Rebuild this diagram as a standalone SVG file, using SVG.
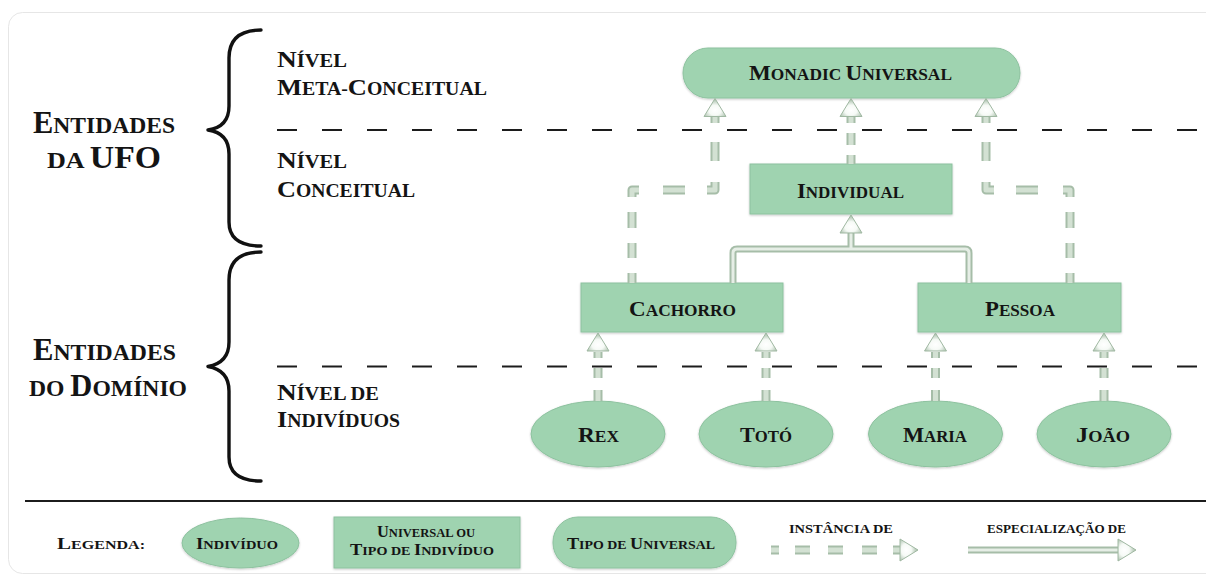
<svg xmlns="http://www.w3.org/2000/svg" width="1206" height="575" viewBox="0 0 1206 575">
  <defs>
    <style>
      .t{font-family:"Liberation Serif","Times New Roman",serif;font-weight:bold;fill:#141414}
      .g1{font-size:31px}.g2{font-size:24px}
      .m1{font-size:24px}.m2{font-size:18px}
      .n1{font-size:22px}.n2{font-size:16.5px}
      .l1{font-size:17px}.l2{font-size:13px}
      .node{fill:#9fd3b0;stroke:#8dc29f;stroke-width:1;filter:url(#sh)}
      .sep{fill:none;stroke:#1c1c1c;stroke-width:2;stroke-dasharray:20 25}
      .brace{fill:none;stroke:#111;stroke-width:3.4;stroke-linecap:round;stroke-linejoin:round}
      .co{fill:none;stroke:#a6bda8;stroke-linejoin:round}
      .ci{fill:none;stroke:#d3e1d3;stroke-linejoin:round}
      .d.co{stroke-width:9}.d.ci{stroke-width:5}
      .s.co{stroke-width:7}.s.ci{stroke-width:3}
      .s.ci{stroke:#e6eee6}
      .head{fill:url(#hg);stroke:#a0b8a2;stroke-width:1;stroke-linejoin:round}
    </style>
    <filter id="sh" x="-10%" y="-20%" width="120%" height="150%">
      <feDropShadow dx="0" dy="1" stdDeviation="1" flood-color="#000" flood-opacity="0.22"/>
    </filter>
    <radialGradient id="hg" cx="0.5" cy="0.65" r="0.62">
      <stop offset="0" stop-color="#ffffff"/>
      <stop offset="0.45" stop-color="#f6faf6"/>
      <stop offset="1" stop-color="#a3bba5"/>
    </radialGradient>
    <!-- arrowhead pointing up, tip at origin -->
    <path id="ah" d="M0,0 L11,18 L-11,18 Z"/>
    <!-- connector geometry (instance-of: dashed, specialization: solid) -->
    <path id="pL" d="M632,283 V190 H715 V116" stroke-dasharray="10 15 15 15 16 15 14 24 22 22 16 21 19 19 7 100"/>
    <path id="pR" d="M1070,283 V190 H986 V116" stroke-dasharray="10 15 15 15 16 15 14 25 22 22 16 21 19 19 7 100"/>
    <path id="pM" d="M851,164 V116" stroke-dasharray="9 10 12 10 7 100"/>
    <path id="pRex" d="M598,401 V352" stroke-dasharray="11 12 10 10 6 100"/>
    <path id="pToto" d="M766,401 V352" stroke-dasharray="11 12 10 10 6 100"/>
    <path id="pMaria" d="M935.5,401 V352" stroke-dasharray="11 12 10 10 6 100"/>
    <path id="pJoao" d="M1104,401 V352" stroke-dasharray="11 12 10 10 6 100"/>
    <path id="pSpec" d="M733,283 V253 Q733,249 737,249 H965 Q969,249 969,253 V283 M851,249 V233"/>
    <path id="pLegI" d="M771,550 H900" stroke-dasharray="8 16 15 18 15 19 15 16 7 100"/>
    <path id="pLegS" d="M968,550 H1118"/>
  </defs>

  <!-- card frame -->
  <rect x="8.5" y="12.5" width="1215" height="561" rx="14" fill="#fff" stroke="#e6e6e6" stroke-width="1"/>

  <!-- level separators -->
  <line class="sep" x1="277" y1="130" x2="1206" y2="130"/>
  <line class="sep" x1="277" y1="366.5" x2="1206" y2="366.5"/>
  <line x1="25" y1="501" x2="1206" y2="501" stroke="#1c1c1c" stroke-width="2.2"/>

  <!-- braces -->
  <path class="brace" d="M261,30 C244,30 229,36 229,58 L229,106 C229,120 222,128 208,130 C222,132 229,140 229,154 L229,222 C229,240 242,246 261,246"/>
  <path class="brace" d="M261,252 C244,252 229,258 229,280 L229,342 C229,356 222,364 208,366.5 C222,369 229,377 229,391 L229,457 C229,475 242,481 261,481"/>

  <!-- group labels -->
  <text class="t" x="33" y="133" textLength="142" lengthAdjust="spacingAndGlyphs"><tspan class="g1">E</tspan><tspan class="g2">NTIDADES</tspan></text>
  <text class="t" x="47" y="168" textLength="114" lengthAdjust="spacingAndGlyphs"><tspan class="g2">DA </tspan><tspan class="g1">UFO</tspan></text>
  <text class="t" x="33" y="360" textLength="143" lengthAdjust="spacingAndGlyphs"><tspan class="g1">E</tspan><tspan class="g2">NTIDADES</tspan></text>
  <text class="t" x="29" y="396" textLength="158" lengthAdjust="spacingAndGlyphs"><tspan class="g2">DO </tspan><tspan class="g1">D</tspan><tspan class="g2">OMÍNIO</tspan></text>

  <!-- level labels -->
  <text class="t" x="277" y="67" textLength="70" lengthAdjust="spacingAndGlyphs"><tspan class="m1">N</tspan><tspan class="m2">ÍVEL</tspan></text>
  <text class="t" x="277" y="94.5" textLength="210" lengthAdjust="spacingAndGlyphs"><tspan class="m1">M</tspan><tspan class="m2">ETA-</tspan><tspan class="m1">C</tspan><tspan class="m2">ONCEITUAL</tspan></text>
  <text class="t" x="277" y="168" textLength="70" lengthAdjust="spacingAndGlyphs"><tspan class="m1">N</tspan><tspan class="m2">ÍVEL</tspan></text>
  <text class="t" x="277" y="196.5" textLength="138" lengthAdjust="spacingAndGlyphs"><tspan class="m1">C</tspan><tspan class="m2">ONCEITUAL</tspan></text>
  <text class="t" x="277" y="400" textLength="102" lengthAdjust="spacingAndGlyphs"><tspan class="m1">N</tspan><tspan class="m2">ÍVEL DE</tspan></text>
  <text class="t" x="277" y="427" textLength="123" lengthAdjust="spacingAndGlyphs"><tspan class="m1">I</tspan><tspan class="m2">NDIVÍDUOS</tspan></text>

  <!-- nodes -->
  <g id="monadic-universal">
    <rect class="node" x="683" y="48" width="337" height="50" rx="25"/>
    <text class="t" x="749" y="79.5" textLength="203" lengthAdjust="spacingAndGlyphs"><tspan class="n1">M</tspan><tspan class="n2">ONADIC </tspan><tspan class="n1">U</tspan><tspan class="n2">NIVERSAL</tspan></text>
  </g>
  <g id="individual">
    <rect class="node" x="750" y="164" width="202" height="50"/>
    <text class="t" x="797" y="198" textLength="107" lengthAdjust="spacingAndGlyphs"><tspan class="n1">I</tspan><tspan class="n2">NDIVIDUAL</tspan></text>
  </g>
  <g id="cachorro">
    <rect class="node" x="581" y="283" width="202" height="49"/>
    <text class="t" x="629" y="316" textLength="107" lengthAdjust="spacingAndGlyphs"><tspan class="n1">C</tspan><tspan class="n2">ACHORRO</tspan></text>
  </g>
  <g id="pessoa">
    <rect class="node" x="918" y="283" width="203" height="49"/>
    <text class="t" x="985" y="316" textLength="70" lengthAdjust="spacingAndGlyphs"><tspan class="n1">P</tspan><tspan class="n2">ESSOA</tspan></text>
  </g>
  <g id="rex">
    <ellipse class="node" cx="598" cy="434" rx="67" ry="33"/>
    <text class="t" x="578" y="441.5" textLength="41" lengthAdjust="spacingAndGlyphs"><tspan class="n1">R</tspan><tspan class="n2">EX</tspan></text>
  </g>
  <g id="toto">
    <ellipse class="node" cx="766" cy="434" rx="67" ry="33"/>
    <text class="t" x="740" y="441.5" textLength="52" lengthAdjust="spacingAndGlyphs"><tspan class="n1">T</tspan><tspan class="n2">OTÓ</tspan></text>
  </g>
  <g id="maria">
    <ellipse class="node" cx="935.5" cy="434" rx="67" ry="33"/>
    <text class="t" x="903" y="441.5" textLength="64" lengthAdjust="spacingAndGlyphs"><tspan class="n1">M</tspan><tspan class="n2">ARIA</tspan></text>
  </g>
  <g id="joao">
    <ellipse class="node" cx="1104" cy="434" rx="67" ry="33"/>
    <text class="t" x="1076" y="441.5" textLength="54" lengthAdjust="spacingAndGlyphs"><tspan class="n1">J</tspan><tspan class="n2">OÃO</tspan></text>
  </g>

  <!-- connectors -->
  <g id="connectors">
    <use href="#pL" class="co d"/>
    <use href="#pR" class="co d"/>
    <use href="#pM" class="co d"/>
    <use href="#pRex" class="co d"/>
    <use href="#pToto" class="co d"/>
    <use href="#pMaria" class="co d"/>
    <use href="#pJoao" class="co d"/>
    <use href="#pSpec" class="co s"/>
    <use href="#pL" class="ci d"/>
    <use href="#pR" class="ci d"/>
    <use href="#pM" class="ci d"/>
    <use href="#pRex" class="ci d"/>
    <use href="#pToto" class="ci d"/>
    <use href="#pMaria" class="ci d"/>
    <use href="#pJoao" class="ci d"/>
    <use href="#pSpec" class="ci s"/>
    <use href="#ah" class="head" transform="translate(715,98.5)"/>
    <use href="#ah" class="head" transform="translate(851,98.5)"/>
    <use href="#ah" class="head" transform="translate(986,98.5)"/>
    <use href="#ah" class="head" transform="translate(851,215)"/>
    <use href="#ah" class="head" transform="translate(598,333)"/>
    <use href="#ah" class="head" transform="translate(766,333)"/>
    <use href="#ah" class="head" transform="translate(935.5,333)"/>
    <use href="#ah" class="head" transform="translate(1104,333)"/>
  </g>

  <!-- legend -->
  <g id="legend">
    <text class="t" x="57" y="549" textLength="88" lengthAdjust="spacingAndGlyphs"><tspan class="l1">L</tspan><tspan class="l2">EGENDA:</tspan></text>
    <g id="legend-individuo">
      <ellipse class="node" cx="240.5" cy="543" rx="58.5" ry="25"/>
      <text class="t" x="196" y="549" textLength="82" lengthAdjust="spacingAndGlyphs"><tspan class="l1">I</tspan><tspan class="l2">NDIVÍDUO</tspan></text>
    </g>
    <g id="legend-universal">
      <rect class="node" x="334" y="517" width="186" height="51"/>
      <text class="t" x="377" y="537" textLength="98" lengthAdjust="spacingAndGlyphs"><tspan class="l1">U</tspan><tspan class="l2">NIVERSAL OU</tspan></text>
      <text class="t" x="350" y="555" textLength="144" lengthAdjust="spacingAndGlyphs"><tspan class="l1">T</tspan><tspan class="l2">IPO DE </tspan><tspan class="l1">I</tspan><tspan class="l2">NDIVÍDUO</tspan></text>
    </g>
    <g id="legend-tipo">
      <rect class="node" x="553" y="517" width="183" height="51" rx="25"/>
      <text class="t" x="567" y="549" textLength="148" lengthAdjust="spacingAndGlyphs"><tspan class="l1">T</tspan><tspan class="l2">IPO DE </tspan><tspan class="l1">U</tspan><tspan class="l2">NIVERSAL</tspan></text>
    </g>
    <text class="t l2" x="789" y="533" textLength="104" lengthAdjust="spacingAndGlyphs">INSTÂNCIA DE</text>
    <text class="t l2" x="987" y="533" textLength="139" lengthAdjust="spacingAndGlyphs">ESPECIALIZAÇÃO DE</text>
    <use href="#pLegI" class="co d"/>
    <use href="#pLegI" class="ci d"/>
    <use href="#pLegS" class="co s"/>
    <use href="#pLegS" class="ci s"/>
    <use href="#ah" class="head" transform="translate(918,550) rotate(90)"/>
    <use href="#ah" class="head" transform="translate(1136,550) rotate(90)"/>
  </g>
</svg>
